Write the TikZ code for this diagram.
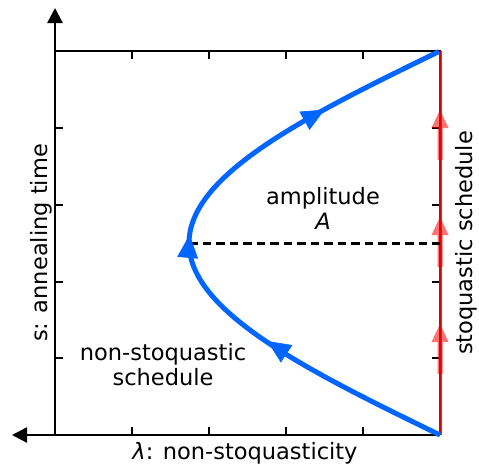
\documentclass[tikz,border=0pt]{standalone}
\usepackage{fontspec}
\setmainfont{DejaVu Sans}
\usetikzlibrary{arrows.meta}
\definecolor{curveblue}{RGB}{0,102,255}
\definecolor{schedred}{RGB}{255,0,0}
\begin{document}
\begin{tikzpicture}[x=1pt,y=-1pt,
  lbl/.style={font=\fontsize{22.5}{25}\selectfont, inner sep=0pt, anchor=base},
  boxline/.style={line width=1.8pt, black},
  axisline/.style={line width=2.4pt, black, -{Triangle[length=15pt 0,width=15pt 0]}},
  tickmark/.style={line width=1.5pt, black},
  curve/.style={line width=5pt, curveblue},
  bluehead/.style={fill=curveblue, draw=curveblue, line width=0.6pt, line join=miter},
  redline/.style={line width=3pt, schedred, opacity=0.85},
  redarrow/.style={fill=schedred, fill opacity=0.55, draw=none},
  dashline/.style={line width=3pt, black, dash pattern=on 8.5pt off 5pt}]
\useasboundingbox (0,0) rectangle (479,464);
% frame corners
\coordinate (O) at (55,435);
\coordinate (BR) at (440,435);
\coordinate (TL) at (55,51);
\coordinate (TR) at (440,51);
\coordinate (ytip) at (55,8);
\coordinate (xtip) at (12,435);
\coordinate (V) at (189,243);
\coordinate (Vr) at (440,243);
% box and axes
\draw[boxline] (TL) -- (TR) -- (BR);
\draw[axisline] (O) -- (ytip);
\draw[axisline] (BR) -- (xtip);
% ticks
\foreach \x in {132,209,286,363} {
  \draw[tickmark] (\x,51) -- ++(0,8);
  \draw[tickmark] (\x,435) -- ++(0,-8);
}
\foreach \y in {128,205,282,358} {
  \draw[tickmark] (55,\y) -- ++(8,0);
  \draw[tickmark] (440,\y) -- ++(-8,0);
}
% stoquastic schedule (red)
\draw[redline] (BR) -- (TR);
\foreach \t in {324,217,110} {
  \fill[redarrow] (437.5,\t+50) -- (437.5,\t+18) -- (431.5,\t+18) -- (440,\t)
     -- (448.5,\t+18) -- (442.5,\t+18) -- (442.5,\t+50) -- cycle;
}
% dashed amplitude
\draw[dashline] (V) -- (Vr);
% non-stoquastic schedule (blue)
\draw[curve] plot[domain=0:1, samples=120, smooth] ({440-251*sin(180*\x)}, {435-384*\x});
% arrowheads on the curve
\filldraw[bluehead] (268,341.5) -- (291.87,345.30) -- (280.83,361.98) -- cycle;
\filldraw[bluehead] (189.5,235.5) -- (197.61,258.25) -- (177.69,256.57) -- cycle;
\filldraw[bluehead] (324,110) -- (309.58,129.38) -- (299.92,111.88) -- cycle;
% labels
\node[lbl] (amp) at (323,204) {amplitude};
\node[lbl] (ampA) at (323,229) {\textit{A}};
\node[lbl] (ns1) at (163,360) {non-stoquastic};
\node[lbl] (ns2) at (163,385) {schedule};
\node[lbl] (xlab) at (245,459) {\textit{λ}: non-stoquasticity};
\node[lbl, rotate=90] (ylab) at (47,243) {s: annealing time};
\node[lbl, rotate=90] (slab) at (472,243) {stoquastic schedule};
\end{tikzpicture}
\end{document}
